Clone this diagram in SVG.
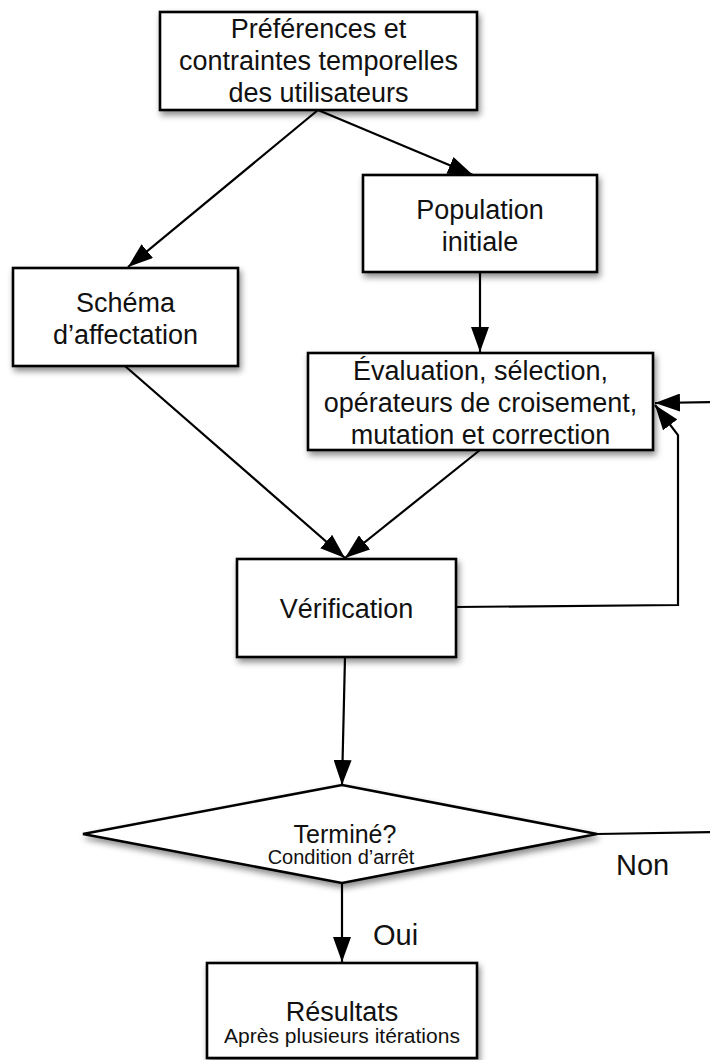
<svg xmlns="http://www.w3.org/2000/svg" width="710" height="1060" viewBox="0 0 710 1060">
  <defs>
    <filter id="shadow" x="-10%" y="-10%" width="125%" height="135%">
      <feDropShadow dx="2" dy="4" stdDeviation="3" flood-color="#000" flood-opacity="0.45"/>
    </filter>
    <marker id="arrow" markerUnits="userSpaceOnUse" markerWidth="26" markerHeight="18" refX="25" refY="9" orient="auto">
      <path d="M0,0 L25,9 L0,18 z" fill="#000"/>
    </marker>
  </defs>
  <style>
    .box { fill: #fff; stroke: #000; stroke-width: 2.6; filter: url(#shadow); }
    .lbl { font-family: "Liberation Sans", Arial, sans-serif; font-size: 27px; fill: #111; text-anchor: middle; }
    .sub { font-family: "Liberation Sans", Arial, sans-serif; font-size: 21px; fill: #111; text-anchor: middle; }
    .edge { fill: none; stroke: #000; stroke-width: 2.2; }
    .arr { marker-end: url(#arrow); }
    .tag { font-family: "Liberation Sans", Arial, sans-serif; font-size: 29px; fill: #111; }
  </style>

  <!-- connectors -->
  <g id="connectors">
    <line class="edge arr" x1="318" y1="110" x2="473" y2="175"/>
    <line class="edge arr" x1="318" y1="110" x2="128" y2="267"/>
    <line class="edge arr" x1="480" y1="272" x2="480" y2="352"/>
    <line class="edge arr" x1="125" y1="366" x2="345" y2="558"/>
    <line class="edge arr" x1="480" y1="450" x2="345" y2="558"/>
    <polyline class="edge arr" points="456,607 678,605 678,435 655,405"/>
    <line class="edge arr" x1="712" y1="402" x2="655" y2="403"/>
    <line class="edge arr" x1="345" y1="657" x2="342" y2="785"/>
    <line class="edge" x1="597" y1="834" x2="712" y2="832"/>
    <line class="edge arr" x1="342" y1="883" x2="342" y2="962"/>
    <text class="tag" x="616" y="875">Non</text>
    <text class="tag" x="373" y="945">Oui</text>
  </g>

  <g id="node-preferences">
    <rect class="box" x="160" y="12" width="317" height="98"/>
    <text class="lbl" x="318.5" y="38">Préférences et</text>
    <text class="lbl" x="318.5" y="70">contraintes temporelles</text>
    <text class="lbl" x="318.5" y="102">des utilisateurs</text>
  </g>

  <g id="node-population">
    <rect class="box" x="363" y="175" width="234" height="97"/>
    <text class="lbl" x="480" y="219">Population</text>
    <text class="lbl" x="480" y="251">initiale</text>
  </g>

  <g id="node-schema">
    <rect class="box" x="13" y="268" width="225" height="98"/>
    <text class="lbl" x="125.5" y="312">Schéma</text>
    <text class="lbl" x="125.5" y="344">d’affectation</text>
  </g>

  <g id="node-evaluation">
    <rect class="box" x="308" y="353" width="345" height="97"/>
    <text class="lbl" x="480.5" y="380">Évaluation, sélection,</text>
    <text class="lbl" x="480.5" y="412">opérateurs de croisement,</text>
    <text class="lbl" x="480.5" y="444">mutation et correction</text>
  </g>

  <g id="node-verification">
    <rect class="box" x="237" y="559" width="219" height="98"/>
    <text class="lbl" x="346.5" y="618">Vérification</text>
  </g>

  <g id="node-termine">
    <polygon class="box" points="342,785 597,834 342,883 83,834"/>
    <text class="lbl" x="345" y="843" style="font-size:25px">Terminé?</text>
    <text class="sub" x="341" y="864" style="font-size:20px">Condition d’arrêt</text>
  </g>

  <g id="node-resultats">
    <rect class="box" x="207" y="963" width="270" height="95"/>
    <text class="lbl" x="342" y="1021">Résultats</text>
    <text class="sub" x="342" y="1043">Après plusieurs itérations</text>
  </g>
</svg>
